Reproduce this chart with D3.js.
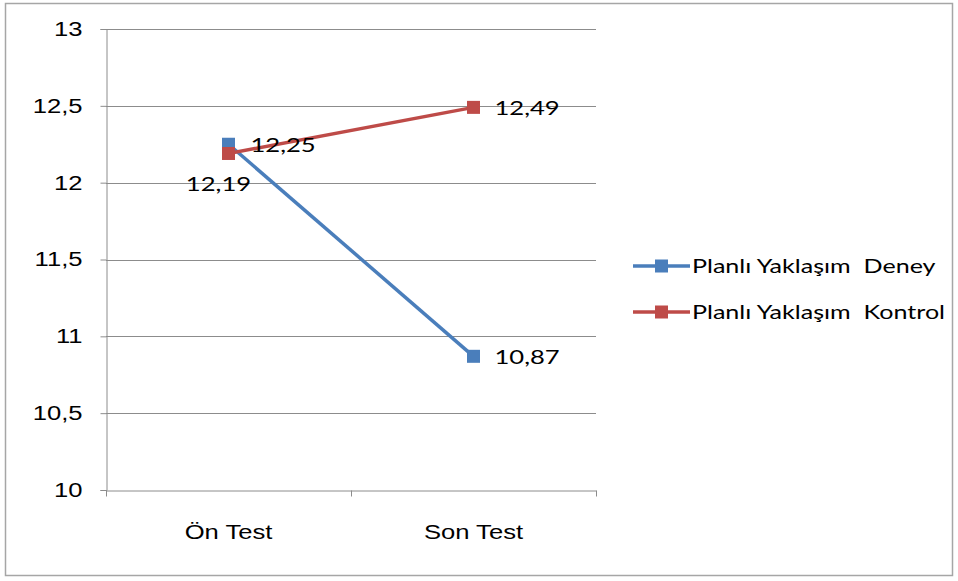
<!DOCTYPE html>
<html>
<head>
<meta charset="utf-8">
<script src="https://cdn.jsdelivr.net/npm/d3@7"></script>
<style>
  html, body { margin: 0; padding: 0; background: #fff; }
  svg { display: block; font-family: Lato, "Open Sans", sans-serif; }
</style>
</head>
<body>
<svg id="chart" width="958" height="581"></svg>
<script>
// Category labels on the x axis
const categories = ["Ön Test", "Son Test"];
// Series names and their values per category
const seriesNames = ["Planlı Yaklaşım  Deney", "Planlı Yaklaşım  Kontrol"];
const deneyValues = [12.25, 10.87];
const kontrolValues = [12.19, 12.49];
// Y axis ticks
const yTicks = [10, 10.5, 11, 11.5, 12, 12.5, 13];
const seriesColors = ["#4a7ebb", "#be4b48"];

const series = [
  { name: seriesNames[0], values: deneyValues, color: seriesColors[0] },
  { name: seriesNames[1], values: kontrolValues, color: seriesColors[1] }
];

const svg = d3.select("#chart");
const fmt = v => String(v).replace(".", ",");
// The chart's text face is set wide; stretch each label horizontally
const STRETCH = 1.28;
function widen(sel) {
  sel.each(function () {
    const w = this.getComputedTextLength();
    d3.select(this).attr("textLength", w * STRETCH).attr("lengthAdjust", "spacingAndGlyphs");
  });
}

// Outer frame
svg.append("rect")
  .attr("x", 5.5).attr("y", 3.5).attr("width", 947).attr("height", 572)
  .attr("fill", "#fff").attr("stroke", "#a6a6a6").attr("stroke-width", 1.5);

const plot = { left: 106, right: 596, top: 29, bottom: 490 };

const x = d3.scaleBand().domain(categories).range([plot.left, plot.right]).padding(0);
const y = d3.scaleLinear().domain([10, 13]).range([plot.bottom, plot.top]);
const cx = c => x(c) + x.bandwidth() / 2;

// Horizontal gridlines
svg.append("g").selectAll("line").data(yTicks.filter(t => t > 10)).join("line")
  .attr("x1", plot.left).attr("x2", plot.right)
  .attr("y1", d => Math.round(y(d)) + 0.5).attr("y2", d => Math.round(y(d)) + 0.5)
  .attr("stroke", "#8c8c8c").attr("stroke-width", 1);

// Y axis
const yAxis = svg.append("g")
  .attr("transform", `translate(${plot.left + 0.5},0)`)
  .call(d3.axisLeft(y).tickValues(yTicks).tickSize(6).tickPadding(18).tickFormat(fmt));
yAxis.select(".domain").attr("stroke", "#8c8c8c");
yAxis.selectAll(".tick line").attr("stroke", "#8c8c8c");
yAxis.selectAll(".tick text").attr("font-size", 20).attr("fill", "#000").call(widen);

// X axis
const xAxis = svg.append("g")
  .attr("transform", `translate(0,${Math.round(y(10)) + 0.5})`)
  .call(d3.axisBottom(x).tickSize(0).tickPadding(34));
xAxis.select(".domain").attr("stroke", "#8c8c8c");
xAxis.selectAll(".tick text").attr("font-size", 20).attr("fill", "#000").call(widen);
// Category boundary ticks
const bounds = [plot.left, plot.left + x.bandwidth(), plot.right];
xAxis.append("g").selectAll("line").data(bounds).join("line")
  .attr("x1", d => Math.round(d) + 0.5).attr("x2", d => Math.round(d) + 0.5)
  .attr("y1", 0).attr("y2", 6).attr("stroke", "#8c8c8c");

// Lines and markers
const line = d3.line().x((d, i) => cx(categories[i])).y(d => y(d));
series.forEach(s => {
  svg.append("path").datum(s.values)
    .attr("d", line).attr("fill", "none")
    .attr("stroke", s.color).attr("stroke-width", 3.5);
});
series.forEach(s => {
  svg.append("g").selectAll("rect").data(s.values).join("rect")
    .attr("x", (d, i) => cx(categories[i]) - 6.5)
    .attr("y", d => y(d) - 6.5)
    .attr("width", 13).attr("height", 13)
    .attr("fill", s.color);
});

// Data labels
const labelOffsets = [
  [{ dx: 22, dy: 8, anchor: "start" }, { dx: 21, dy: 8, anchor: "start" }],
  [{ dx: -10, dy: 38, anchor: "middle" }, { dx: 21, dy: 8, anchor: "start" }]
];
series.forEach((s, si) => {
  svg.append("g").selectAll("text").data(s.values).join("text")
    .attr("x", (d, i) => cx(categories[i]) + labelOffsets[si][i].dx)
    .attr("y", (d, i) => y(d) + labelOffsets[si][i].dy)
    .attr("text-anchor", (d, i) => labelOffsets[si][i].anchor)
    .attr("font-size", 20).attr("fill", "#000")
    .text(fmt)
    .call(widen);
});

// Legend
const legend = svg.append("g").attr("transform", "translate(633,266)");
series.forEach((s, i) => {
  const g = legend.append("g").attr("transform", `translate(0,${i * 46})`);
  g.append("line").attr("x1", 0).attr("x2", 57).attr("y1", 0).attr("y2", 0)
    .attr("stroke", s.color).attr("stroke-width", 3.5);
  g.append("rect").attr("x", 22).attr("y", -6.5).attr("width", 13).attr("height", 13)
    .attr("fill", s.color);
  g.append("text").attr("x", 59).attr("y", 7).attr("font-size", 19)
    .attr("fill", "#000").style("white-space", "pre").attr("xml:space", "preserve")
    .text(s.name)
    .call(t => t.each(function () {
      const w = this.getComputedTextLength();
      d3.select(this).attr("textLength", w * 1.32).attr("lengthAdjust", "spacingAndGlyphs");
    }));
});
</script>
</body>
</html>
